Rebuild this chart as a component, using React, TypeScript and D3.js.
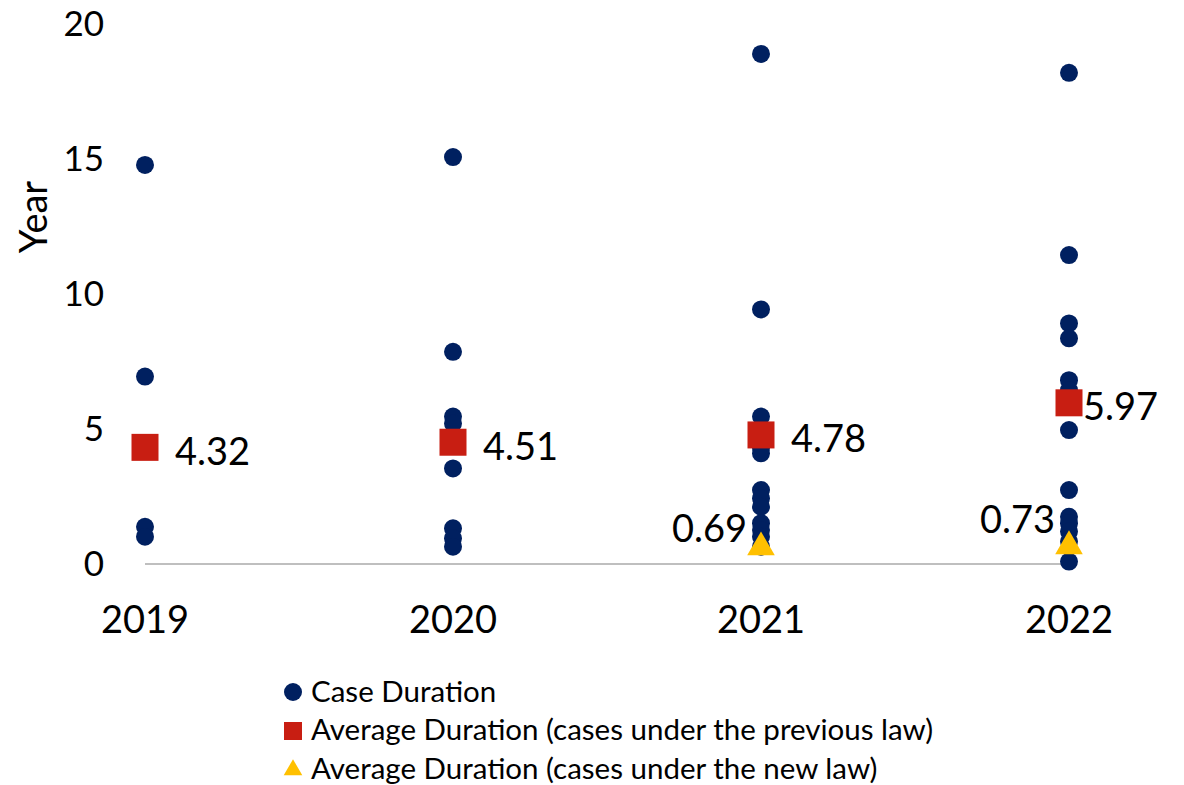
import * as d3 from "d3";

const years = ["2019", "2020", "2021", "2022"];

const cases2019 = [14.78, 6.94, 1.38, 1.01];
const cases2020 = [15.07, 7.86, 5.46, 5.2, 3.54, 1.32, 0.95, 0.64];
const cases2021 = [18.89, 9.43, 5.46, 4.3, 4.1, 2.74, 2.43, 2.12, 1.51, 1.26, 1.01, 0.64];
const cases2022 = [18.19, 11.44, 8.91, 8.36, 6.81, 6.44, 4.96, 2.74, 1.75, 1.51, 1.2, 0.83, 0.09];

const prevLawAvg = [4.32, 4.51, 4.78, 5.97];
const newLawYears = ["2021", "2022"];
const newLawAvg = [0.69, 0.73];

const yTicks = [0, 5, 10, 15, 20];
const legendLabels = [
  "Case Duration",
  "Average Duration (cases under the previous law)",
  "Average Duration (cases under the new law)",
];

const navy = "#002060";
const red = "#c81e12";
const gold = "#ffc000";
const font = "Lato, 'Open Sans', sans-serif";

export default function App() {
  const width = 1184;
  const height = 785;

  const x = d3.scalePoint<string>().domain(years).range([145, 1069]);
  const y = d3.scaleLinear().domain([0, 20]).range([564, 24]);

  const allCases = [cases2019, cases2020, cases2021, cases2022];
  const dots = allCases.flatMap((vals, i) => vals.map((v) => ({ year: years[i], v })));

  const sq = 27;
  const tri = d3.symbol().type(d3.symbolTriangle).size(330);

  return (
    <svg width={width} height={height} style={{ position: "absolute", left: 0, top: 0 }}>
      <rect width={width} height={height} fill="#fff" />

      {/* y tick labels */}
      {yTicks.map((t) => (
        <text key={t} x={104} y={y(t)} dy="0.35em" textAnchor="end" fontSize={35} fontFamily={font} fill="#000">
          {t}
        </text>
      ))}

      <text
        transform={`translate(34,217) rotate(-90)`}
        textAnchor="middle"
        dy="0.35em"
        fontSize={38}
        fontFamily={font}
        fill="#000"
      >
        Year
      </text>

      {/* x axis line */}
      <line x1={x(years[0])} x2={x(years[3])} y1={y(0)} y2={y(0)} stroke="#bfbfbf" strokeWidth={2} />

      {years.map((yr) => (
        <text key={yr} x={x(yr)} y={620} dy="0.35em" textAnchor="middle" fontSize={38} fontFamily={font} fill="#000">
          {yr}
        </text>
      ))}

      {/* case dots */}
      {dots.map((d, i) => (
        <circle key={i} cx={x(d.year)} cy={y(d.v)} r={9} fill={navy} />
      ))}

      {/* previous law averages */}
      {prevLawAvg.map((v, i) => (
        <g key={i}>
          <rect x={x(years[i])! - sq / 2} y={y(v) - sq / 2} width={sq} height={sq} fill={red} />
          <text
            x={x(years[i])! + (i === 3 ? 14 : 30)}
            y={y(v) + 4}
            dy="0.35em"
            fontSize={38}
            fontFamily={font}
            fill="#000"
          >
            {v.toFixed(2)}
          </text>
        </g>
      ))}

      {/* new law averages */}
      {newLawAvg.map((v, i) => (
        <g key={i}>
          <path d={tri()!} transform={`translate(${x(newLawYears[i])},${y(v) + 2})`} fill={gold} />
          <text
            x={x(newLawYears[i])! - 14}
            y={y(v) - (i === 0 ? 17 : 25)}
            dy="0.35em"
            textAnchor="end"
            fontSize={38}
            fontFamily={font}
            fill="#000"
          >
            {v.toFixed(2)}
          </text>
        </g>
      ))}

      {/* legend */}
      <g fontFamily={font} fontSize={29.5} fill="#000">
        <circle cx={293} cy={692} r={9} fill={navy} />
        <rect x={284} y={722} width={18} height={18} fill={red} />
        <path d={d3.symbol().type(d3.symbolTriangle).size(150)()!} transform="translate(293,770)" fill={gold} />
        {legendLabels.map((l, i) => (
          <text key={l} x={311} y={692 + i * 38.5} dy="0.33em">
            {l}
          </text>
        ))}
      </g>
    </svg>
  );
}
